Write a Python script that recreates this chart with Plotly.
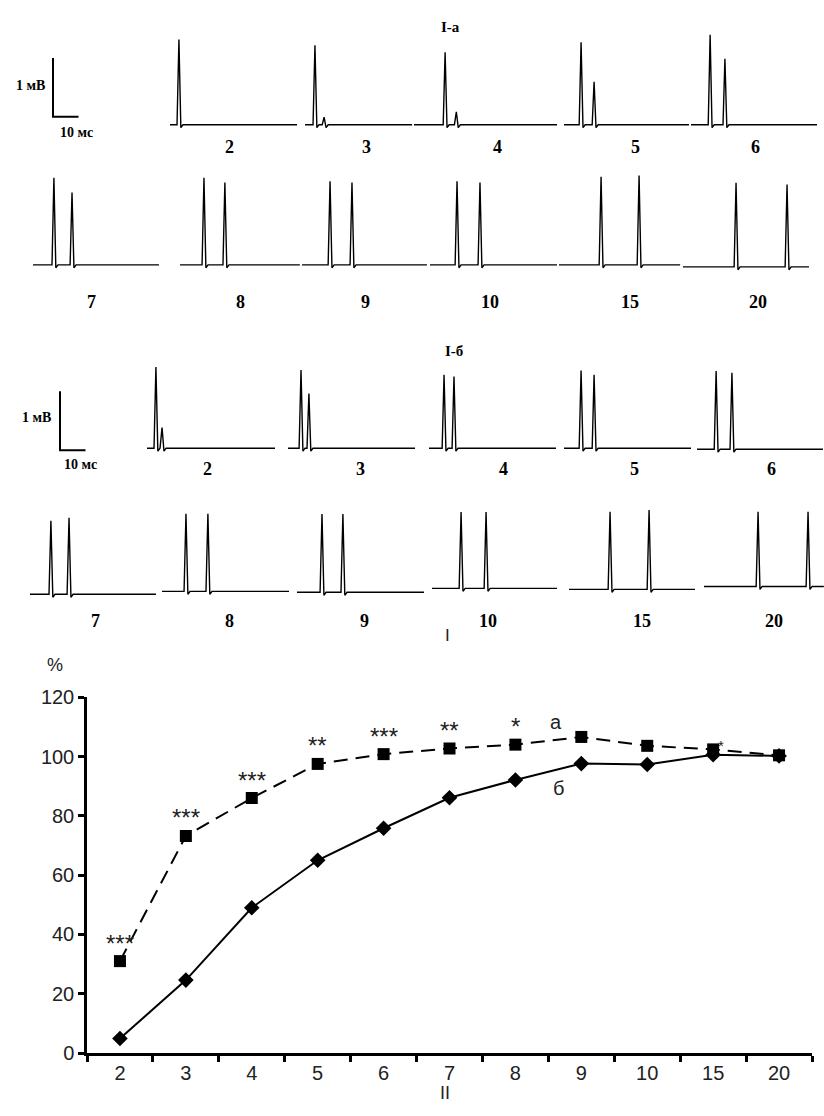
import plotly.graph_objects as go

# ---------------- DATA ----------------
# Chart II: response (%) vs inter-stimulus interval (ms)
intervals = ["2", "3", "4", "5", "6", "7", "8", "9", "10", "15", "20"]
series_a = [31.0, 73.2, 86.0, 97.5, 100.8, 102.7, 104.0, 106.6, 103.6, 102.4, 100.4]
series_b = [4.9, 24.6, 49.0, 65.0, 75.8, 86.1, 92.1, 97.6, 97.3, 100.6, 100.2]
stars_a = ["***", "***", "***", "**", "***", "**", "*", "", "", "", ""]

# Recordings I-а: spike times (ms from sweep start) and amplitudes (mV)
ia_labels = ["2", "3", "4", "5", "6", "7", "8", "9", "10", "15", "20"]
ia_length = [49.8, 42.0, 56.1, 49.0, 49.4, 49.4, 47.0, 49.0, 49.8, 47.5, 49.4]
ia_t1 = [3.5, 3.9, 12.2, 6.7, 7.5, 8.2, 9.4, 11.0, 10.6, 16.5, 20.8]
ia_a1 = [1.45, 1.35, 1.23, 1.40, 1.53, 1.48, 1.48, 1.42, 1.42, 1.50, 1.43]
ia_t2 = [None, 7.5, 16.6, 11.8, 13.3, 15.3, 17.6, 19.6, 19.6, 31.4, 40.8]
ia_a2 = [0.0, 0.13, 0.22, 0.73, 1.12, 1.23, 1.40, 1.40, 1.40, 1.52, 1.40]

# Recordings I-б
ib_labels = ["2", "3", "4", "5", "6", "7", "8", "9", "10", "15", "20"]
ib_length = [50.2, 49.8, 49.8, 49.8, 49.4, 49.4, 49.8, 49.8, 49.0, 49.4, 47.0]
ib_t1 = [3.5, 5.1, 5.9, 6.7, 7.5, 8.2, 9.4, 9.8, 11.4, 16.1, 21.2]
ib_a1 = [1.38, 1.33, 1.25, 1.32, 1.33, 1.25, 1.32, 1.33, 1.30, 1.32, 1.27]
ib_t2 = [5.9, 8.2, 9.8, 11.8, 13.7, 15.3, 18.0, 18.0, 21.2, 31.4, 40.8]
ib_a2 = [0.35, 0.93, 1.22, 1.25, 1.30, 1.30, 1.32, 1.33, 1.30, 1.35, 1.27]

# ---------------- LAYOUT CONSTANTS ----------------
W, H = 824, 1116
PXMS = 2.55   # px per ms in recordings panel
PXMV = 60.0   # px per mV
TOP_H = 640   # recordings panel height (px)

# sweep placement (px): left x, baseline y, label x, label y
ia_x0 = [170, 305, 414, 564, 691, 33, 180, 302, 430, 559, 683]
ia_base = [116, 116, 116, 116, 116, 259, 259, 259, 259, 259, 261]
ia_lx = [229, 366, 498, 635, 755, 91, 241, 365, 490, 630, 758]
ia_ly = [139] * 5 + [297] * 6

ib_x0 = [147, 288, 429, 564, 697, 30, 162, 297, 432, 569, 704]
ib_base = [446, 446, 446, 446, 447, 595, 592, 593, 589, 590, 587]
ib_lx = [207, 360, 503, 634, 771, 95, 229, 364, 488, 642, 774]
ib_ly = [467] * 5 + [622] * 6

serif = "Liberation Serif, Times New Roman, serif"
sans = "Liberation Sans, Arial, sans-serif"

fig = go.Figure()


def px2x(px):
    return px / PXMS


def px2y(py):
    return -py / PXMV


def sweep(x0px, basepx, length, spikes):
    x0 = px2x(x0px)
    b = px2y(basepx)
    xs, ys = [x0], [b]
    for t, a in spikes:
        if t is None:
            continue
        xs += [x0 + t - 0.75, x0 + t, x0 + t + 0.75, x0 + t + 1.6]
        ys += [b, b + a, b - 0.05, b]
    xs.append(x0 + length)
    ys.append(b)
    return xs, ys


def add_set(x0s, bases, lengths, t1, a1, t2, a2):
    for i in range(len(x0s)):
        xs, ys = sweep(x0s[i], bases[i], lengths[i], [(t1[i], a1[i]), (t2[i], a2[i])])
        fig.add_trace(go.Scatter(x=xs, y=ys, mode="lines", xaxis="x2", yaxis="y2",
                                 line=dict(color="black", width=1.4), showlegend=False,
                                 hoverinfo="skip", cliponaxis=False))


add_set(ia_x0, ia_base, ia_length, ia_t1, ia_a1, ia_t2, ia_a2)
add_set(ib_x0, ib_base, ib_length, ib_t1, ib_a1, ib_t2, ib_a2)

# calibration bars (10 ms, 1 mV)
for cx, cy in [(53, 108), (60, 448)]:
    x0, y0 = px2x(cx), px2y(cy)
    fig.add_trace(go.Scatter(x=[x0, x0, x0 + 10], y=[y0 + 1, y0, y0], mode="lines",
                             xaxis="x2", yaxis="y2", line=dict(color="black", width=2),
                             showlegend=False, hoverinfo="skip"))

annotations = []


def ptext(txt, x, y, size, font, bold=False, color="black"):
    annotations.append(dict(text=("<b>%s</b>" % txt) if bold else txt,
                            x=x / W, y=1 - y / H, xref="paper", yref="paper",
                            showarrow=False, xanchor="center", yanchor="middle",
                            font=dict(family=font, size=size, color=color)))


for lab, lx, ly in zip(ia_labels, ia_lx, ia_ly):
    ptext(lab, lx, ly, 18, serif, True)
for lab, lx, ly in zip(ib_labels, ib_lx, ib_ly):
    ptext(lab, lx, ly, 18, serif, True)

ptext("I-а", 450, 16, 15, serif, True)
ptext("I-б", 454, 347, 15, serif, True)
ptext("1 мВ", 31, 76, 14, serif, True)
ptext("10 мс", 76, 124, 14, serif, True)
ptext("1 мВ", 36, 415, 14, serif, True)
ptext("10 мс", 80, 463, 14, serif, True)
ptext("I", 447, 637, 17, sans, False, "#222")
ptext("%", 55, 667, 18, sans, False, "#222")
ptext("II", 445, 1104, 18, sans, False, "#222")

# ---------------- CHART II ----------------
fig.add_trace(go.Scatter(x=intervals, y=series_a, mode="lines+markers",
                         line=dict(color="black", width=2, dash="14px,8px"),
                         marker=dict(symbol="square", size=12, color="black"),
                         showlegend=False, hoverinfo="skip", cliponaxis=False))
fig.add_trace(go.Scatter(x=intervals, y=series_b, mode="lines+markers",
                         line=dict(color="black", width=2),
                         marker=dict(symbol="diamond", size=12, color="black"),
                         showlegend=False, hoverinfo="skip", cliponaxis=False))

for i, s in enumerate(stars_a):
    if s:
        annotations.append(dict(text=s, x=i, y=series_a[i], xref="x", yref="y",
                                yshift=18, showarrow=False, xanchor="center",
                                yanchor="middle", font=dict(family=sans, size=24, color="#222")))
annotations.append(dict(text="*", x=9.12, y=series_a[9], xref="x", yref="y", yshift=4,
                        showarrow=False, font=dict(family=sans, size=15, color="#222")))
annotations.append(dict(text="а", x=6.62, y=111.5, xref="x", yref="y", showarrow=False,
                        font=dict(family=sans, size=20, color="#222")))
annotations.append(dict(text="б", x=6.65, y=89.5, xref="x", yref="y", showarrow=False,
                        font=dict(family=sans, size=20, color="#222")))

ax_left, ax_right = 87, 812
ax_top, ax_bottom = 700, 1063

fig.update_layout(
    width=W, height=H, autosize=False, margin=dict(l=0, r=0, t=0, b=0),
    paper_bgcolor="white", plot_bgcolor="white",
    annotations=annotations,
    xaxis=dict(domain=[ax_left / W, ax_right / W], type="category",
               categoryorder="array", categoryarray=intervals,
               range=[-0.5, len(intervals) - 0.5],
               showline=True, linecolor="black", linewidth=2.5,
               ticks="outside", tickson="boundaries", ticklen=6, tickwidth=2.5,
               tickcolor="black", showgrid=False, zeroline=False,
               tickfont=dict(family=sans, size=20, color="#222"), anchor="y"),
    yaxis=dict(domain=[1 - ax_bottom / H, 1 - ax_top / H], range=[0, 120],
               tickvals=[0, 20, 40, 60, 80, 100, 120],
               showline=True, linecolor="black", linewidth=2.5,
               ticks="outside", ticklen=6, tickwidth=2.5, tickcolor="black",
               showgrid=False, zeroline=False,
               tickfont=dict(family=sans, size=20, color="#222"), anchor="x"),
    xaxis2=dict(domain=[0, 1], range=[0, px2x(W)], visible=False, anchor="y2"),
    yaxis2=dict(domain=[1 - TOP_H / H, 1], range=[px2y(TOP_H), 0], visible=False,
                anchor="x2"),
)

fig.write_html("out.html", config={"displayModeBar": False},
               post_script="document.body.style.margin='0';")
